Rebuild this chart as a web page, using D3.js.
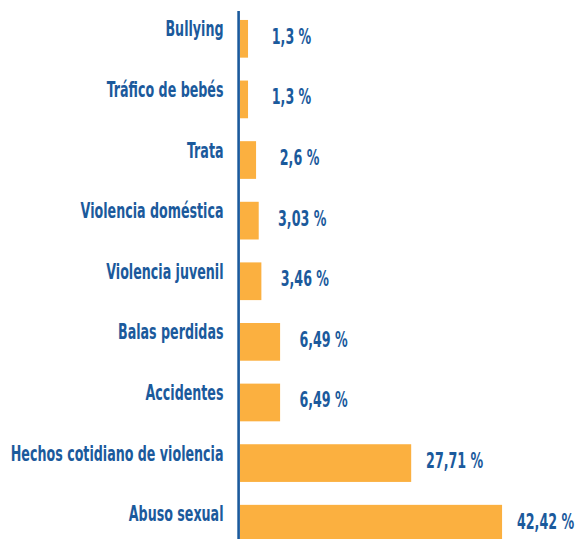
<!DOCTYPE html>
<html>
<head>
<meta charset="utf-8">
<script src="https://cdn.jsdelivr.net/npm/d3@7"></script>
<style>
  html, body { margin: 0; padding: 0; background: #fff; }
  svg { display: block; }
  text { font-family: "DejaVu Sans", sans-serif; font-stretch: condensed; font-weight: bold; }
</style>
</head>
<body>
<svg id="chart" width="580" height="539"></svg>
<script>
// categories top to bottom, shares in percent
const categories = ["Bullying", "Tráfico de bebés", "Trata", "Violencia doméstica",
  "Violencia juvenil", "Balas perdidas", "Accidentes",
  "Hechos cotidiano de violencia", "Abuso sexual"];
const values = [1.3, 1.3, 2.6, 3.03, 3.46, 6.49, 6.49, 27.71, 42.42];

const blue = "#1b5a9c";
const orange = "#fbb040";
const fontSize = 21.5;

const svg = d3.select("#chart");

const x = d3.scaleLinear()
    .domain([0, 45])
    .range([240, 518]);

const y = d3.scaleBand()
    .domain(categories)
    .range([8.5, 554])
    .paddingInner(0.378)
    .paddingOuter(0.189);

// the original uses a narrow typeface: squeeze text horizontally to match
const probe = svg.append("text")
    .style("font-size", fontSize + "px")
    .text("Hechos cotidiano de violencia");
const sx = 213 / probe.node().getComputedTextLength();
probe.remove();

// bars
svg.append("g")
  .selectAll("rect")
  .data(values)
  .join("rect")
    .attr("x", x(0))
    .attr("y", (d, i) => y(categories[i]))
    .attr("width", d => x(d) - x(0))
    .attr("height", y.bandwidth())
    .attr("fill", orange);

// vertical axis line
svg.append("line")
    .attr("x1", 238.6).attr("x2", 238.6)
    .attr("y1", 11).attr("y2", 560)
    .attr("stroke", blue)
    .attr("stroke-width", 2.6);

// category labels
svg.append("g")
    .attr("text-anchor", "end")
    .attr("fill", blue)
    .style("font-size", fontSize + "px")
  .selectAll("text")
  .data(categories)
  .join("text")
    .attr("transform", d => `translate(223.5,${y(d) + y.bandwidth() / 2 - 2.5}) scale(${sx},1)`)
    .text(d => d);

// value labels
const fmt = v => String(v).replace(".", ",") + " %";
svg.append("g")
    .attr("text-anchor", "middle")
    .attr("fill", blue)
    .style("font-size", fontSize + "px")
  .selectAll("text")
  .data(values)
  .join("text")
    .attr("transform", (d, i) => `translate(${x(d) + 43.5},${y(categories[i]) + y.bandwidth() / 2 + 5}) scale(${sx},1)`)
    .text(fmt);
</script>
</body>
</html>
